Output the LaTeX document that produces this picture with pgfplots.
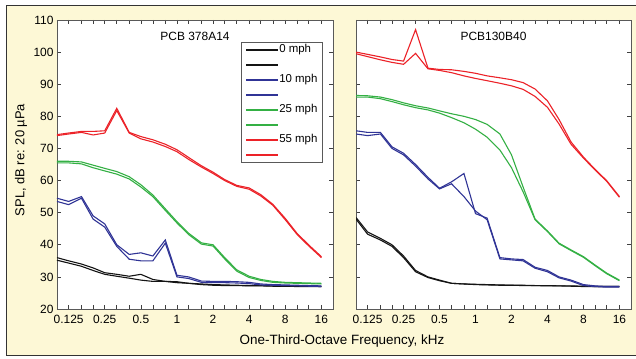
\documentclass[border=0pt]{standalone}
\usepackage{fontspec}
\setmainfont{Liberation Sans}
\usepackage{pgfplots}
\pgfplotsset{compat=1.18}
\usepackage{pgfplotstable}
\definecolor{cred}{RGB}{236,34,40}
\definecolor{cgreen}{RGB}{52,176,68}
\definecolor{cblue}{RGB}{48,52,150}
\definecolor{cblack}{RGB}{20,20,20}
\definecolor{bgyellow}{RGB}{253,248,214}

\pgfplotstableread{
f     k1   k2   b1   b2   g1   g2   r1   r2
0.1   36   35.2 54.5 53.5 66   65.5 74.3 74
0.125 35   34.3 53.5 52.5 66   65.5 74.8 74.5
0.16  34   33.3 55   54.5 65.8 65.2 75.3 75
0.2   32.8 32   49   48   64.8 64   75.3 74.2
0.25  31.3 30.8 46.5 45.5 63.8 63   75.5 74.8
0.315 30.8 30.2 40   39.5 62.8 62   82.5 81.8
0.4   30.2 29.6 37   35.5 61.2 60.5 75   74.8
0.5   30.8 29   37.5 35   58.7 58   73.7 73
0.63  29.2 28.6 36.5 35   55.5 55   72.7 72
0.8   28.6 28.6 41.5 40.5 51.2 50.7 71.3 70.6
1     28.2 28.5 30.5 30   47.2 46.8 69.6 69
1.25  28   28   30   29.5 43.6 43.2 67.2 66.6
1.6   27.6 27.8 28.7 28.3 40.6 40.2 64.6 64.2
2     27.4 27.6 28.6 28.2 40   39.6 62.6 62.2
2.5   27.3 27.5 28.6 28.2 36   35.6 60.3 60
3.15  27.3 27.4 28.5 28.1 32.2 31.8 58.5 58.2
4     27.2 27.3 28.3 27.9 30.2 29.8 57.7 57.3
5     27.2 27.3 27.8 27.5 29.2 28.9 55.6 55.2
6.3   27.1 27.2 27.6 27.4 28.6 28.3 52.6 52.3
8     27.1 27.2 27.5 27.3 28.3 28.1 48.2 47.8
10    27   27.1 27.4 27.2 28.2 28   43.6 43.3
12.5  27   27.1 27.3 27.1 28.1 27.9 40   39.7
16    27   27   27.2 27   28   27.8 36.3 36
}\tableL

\pgfplotstableread{
f     k1   k2   b1   b2   g1   g2   r1   r2
0.1   48.5 48   75.5 74.5 86.5 86   100  99.5
0.125 44   43.3 75   74   86.4 86   99.3 98.6
0.16  42   41.5 75   74.5 86   85.5 98.5 97.6
0.2   40   39.5 70.5 70   85.2 84.6 97.7 96.8
0.25  36.5 36   68.5 68   84.2 83.6 97.2 96.2
0.315 32   31.6 65   64.5 83.3 82.7 107  99.6
0.4   30   29.8 61   60.5 82.6 82   95   94.8
0.5   29   28.8 57.6 57.4 81.7 81   94.6 94.3
0.63  28   28   59.6 59   80.8 79.6 94.5 93.6
0.8   27.8 27.8 62.2 55   80   78   94   92.6
1     27.6 27.7 49.7 50.5 79   76   93.4 91.8
1.25  27.5 27.6 48.3 47.8 77.5 73.5 92.6 91.1
1.6   27.4 27.5 36   35.6 74.5 69.5 92   90.3
2     27.4 27.4 35.6 35.3 68   64   91.4 89.5
2.5   27.3 27.4 35.4 35   58   56.5 90.5 88.4
3.15  27.3 27.3 33   32.7 48   47.8 88.5 86.2
4     27.2 27.3 32   31.6 44.3 44.1 84.8 82.8
5     27.2 27.2 30   29.7 40.5 40.3 79   77.6
6.3   27.1 27.2 29   28.7 38.4 38.2 72   71.3
8     27   27.1 27.6 27.3 36.3 36.1 67.3 67
10    27   27   27.2 27   33.7 33.5 63.5 63.3
12.5  27   27   27   26.8 31.2 31   60   59.8
16    27   27   27   26.8 29   28.8 55   54.8
}\tableR

\begin{document}
\begin{tikzpicture}[x=1bp,y=1bp]
\path[use as bounding box] (0,0) rectangle (636,358);
\fill[white] (0,0) rectangle (636,358);
\draw[fill=bgyellow, draw=black!80, line width=1bp] (6,3) rectangle (640,352);

\begin{axis}[xmode=log, scale only axis, height=289bp, width=276bp,
    at={(57bp,49bp)}, anchor=south west,
    xmin=0.1, xmax=20, ymin=20, ymax=110,
    ytick={20,30,...,110},
    xtick={0.125,0.25,0.5,1,2,4,8,16},
    xticklabels={0.125,0.25,0.5,1,2,4,8,16},
    minor xtick={0.1,0.16,0.2,0.315,0.4,0.63,0.8,1.25,1.6,2.5,3.15,5,6.3,10,12.5},
    tick align=inside, major tick length=4bp, minor tick length=4bp,
    tick style={black!75, line width=0.6bp},
    axis line style={black!65, line width=0.9bp},
    axis background/.style={fill=white},
    /pgf/number format/assume math mode=true,
    tick label style={font=\fontsize{12}{12}\selectfont},
    xticklabel style={yshift=-3bp},
  legend style={at={(rel axis cs:0.667,0.924)}, anchor=north west,
    draw=black!65, line width=0.9bp, fill=white,
    font=\fontsize{11.5}{11.5}\selectfont, inner xsep=4bp, inner ysep=2bp, row sep=4bp,
    nodes={inner sep=0.5bp, text height=8bp, text depth=2bp, anchor=west}},
  legend cell align=left,
  legend image code/.code={\draw[#1, line width=1.2bp] (0bp,0bp) -- (32bp,0bp);},
]
\addplot[cblack, line width=1.1bp] table[x=f,y=k1] {\tableL}; \addlegendentry{0 mph}
\addplot[cblack, line width=1.1bp] table[x=f,y=k2] {\tableL}; \addlegendentry{\phantom{0}}
\addplot[cblue, line width=1.1bp] table[x=f,y=b1] {\tableL}; \addlegendentry{10 mph}
\addplot[cblue, line width=1.1bp] table[x=f,y=b2] {\tableL}; \addlegendentry{\phantom{0}}
\addplot[cgreen, line width=1.1bp] table[x=f,y=g1] {\tableL}; \addlegendentry{25 mph}
\addplot[cgreen, line width=1.1bp] table[x=f,y=g2] {\tableL}; \addlegendentry{\phantom{0}}
\addplot[cred, line width=1.1bp] table[x=f,y=r1] {\tableL}; \addlegendentry{55 mph}
\addplot[cred, line width=1.1bp] table[x=f,y=r2] {\tableL}; \addlegendentry{\phantom{0}}
\node[font=\fontsize{12}{12}\selectfont] at (rel axis cs:0.5,0.945) {PCB 378A14};
\end{axis}

\begin{axis}[xmode=log, scale only axis, height=289bp, width=275bp,
    at={(356bp,49bp)}, anchor=south west,
    xmin=0.1, xmax=20, ymin=20, ymax=110,
    ytick={20,30,...,110}, yticklabels={},
    xtick={0.125,0.25,0.5,1,2,4,8,16},
    xticklabels={0.125,0.25,0.5,1,2,4,8,16},
    minor xtick={0.1,0.16,0.2,0.315,0.4,0.63,0.8,1.25,1.6,2.5,3.15,5,6.3,10,12.5},
    tick align=inside, major tick length=4bp, minor tick length=4bp,
    tick style={black!75, line width=0.6bp},
    axis line style={black!65, line width=0.9bp},
    axis background/.style={fill=white},
    tick label style={font=\fontsize{12}{12}\selectfont},
    xticklabel style={yshift=-3bp},
]
\addplot[cblack, line width=1.1bp] table[x=f,y=k1] {\tableR};
\addplot[cblack, line width=1.1bp] table[x=f,y=k2] {\tableR};
\addplot[cblue, line width=1.1bp] table[x=f,y=b1] {\tableR};
\addplot[cblue, line width=1.1bp] table[x=f,y=b2] {\tableR};
\addplot[cgreen, line width=1.1bp] table[x=f,y=g1] {\tableR};
\addplot[cgreen, line width=1.1bp] table[x=f,y=g2] {\tableR};
\addplot[cred, line width=1.1bp] table[x=f,y=r1] {\tableR};
\addplot[cred, line width=1.1bp] table[x=f,y=r2] {\tableR};
\node[font=\fontsize{12}{12}\selectfont] at (rel axis cs:0.5,0.945) {PCB130B40};
\end{axis}

\node[font=\fontsize{13.5}{13.5}\selectfont] at (342,17) {One-Third-Octave Frequency, kHz};
\node[font=\fontsize{13}{13}\selectfont, rotate=90] at (21,198) {SPL, dB re: 20 µPa};
\end{tikzpicture}
\end{document}
